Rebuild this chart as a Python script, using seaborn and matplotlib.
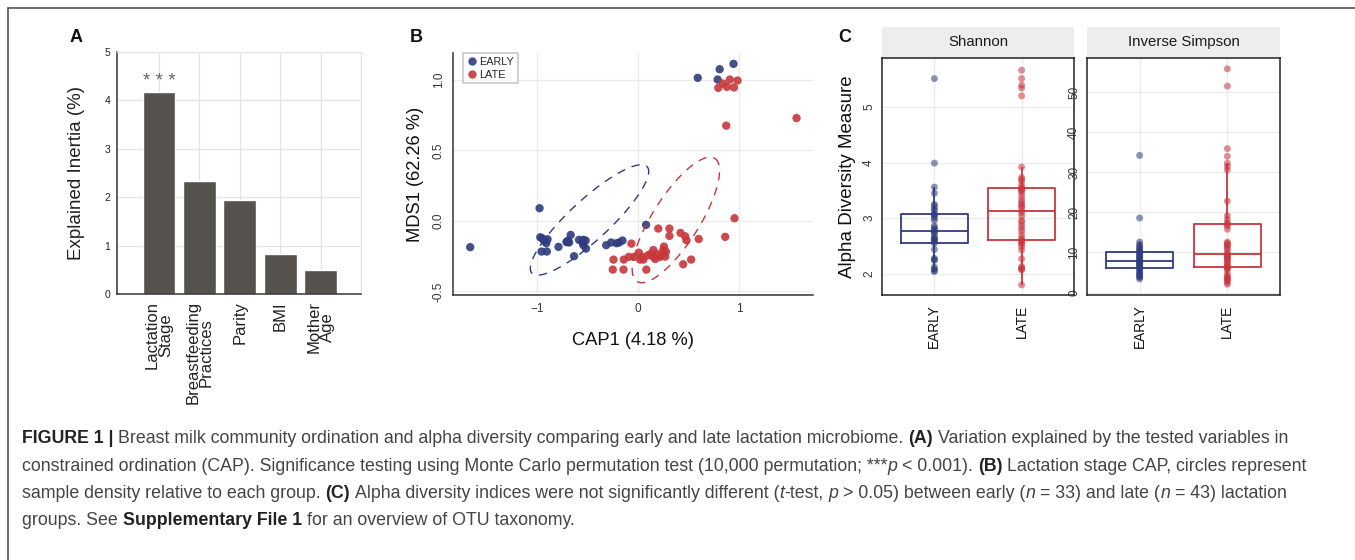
import numpy as np
import pandas as pd
import matplotlib
matplotlib.use("Agg")
import matplotlib.pyplot as plt
import seaborn as sns
from matplotlib.patches import Rectangle
from matplotlib.lines import Line2D
from matplotlib.ticker import FormatStrFormatter

# ---------------- data ----------------
# Panel A: explained inertia (CAP)
factor_labels = ["Lactation\nStage", "Breastfeeding\nPractices", "Parity", "BMI", "Mother\nAge"]
explained_inertia = [4.17, 2.34, 1.95, 0.83, 0.50]
significance = ["***", "", "", "", ""]

# Panel B: CAP ordination
groups = ["EARLY", "LATE"]
early_cap1 = [-1.66, -0.974, -0.967, -0.948, -0.921, -0.895, -0.908, -0.954, -0.902, -0.787,
              -0.708, -0.692, -0.666, -0.682, -0.633, -0.584, -0.541, -0.518, -0.541, -0.515,
              -0.315, -0.266, -0.213, -0.187, -0.154, 0.079, 0.590, 0.807, 0.787, 0.944,
              -0.55, -0.93, -0.70]
early_mds1 = [-0.186, 0.090, -0.116, -0.123, -0.139, -0.130, -0.158, -0.217, -0.217, -0.184,
              -0.149, -0.139, -0.099, -0.153, -0.250, -0.134, -0.134, -0.139, -0.172, -0.196,
              -0.172, -0.153, -0.158, -0.153, -0.139, -0.028, 1.014, 1.075, 1.002, 1.113,
              -0.150, -0.140, -0.150]
late_cap1 = [0.793, 0.839, 0.879, 0.908, 0.984, 0.948, 0.872, 1.567, 0.954, 0.862,
             -0.066, -0.243, -0.250, -0.141, -0.144, -0.092, -0.042, 0.007, 0.020, 0.040,
             0.053, 0.082, 0.098, 0.125, 0.151, 0.151, 0.184, 0.200, 0.217, 0.233,
             0.250, 0.256, 0.276, 0.269, 0.310, 0.310, 0.420, 0.466, 0.479, 0.446,
             0.525, 0.600, 0.170]
late_mds1 = [0.943, 0.974, 0.950, 1.002, 0.995, 0.946, 0.675, 0.729, 0.019, -0.113,
             -0.161, -0.274, -0.345, -0.274, -0.345, -0.255, -0.255, -0.225, -0.274, -0.255,
             -0.274, -0.345, -0.243, -0.234, -0.206, -0.255, -0.234, -0.054, -0.255, -0.243,
             -0.206, -0.182, -0.218, -0.253, -0.054, -0.106, -0.085, -0.109, -0.137, -0.307,
             -0.274, -0.128, -0.270]
# 95% ellipses (centre and two conjugate semi-axis vectors, CAP1/MDS1 units)
ellipse_center_cap1 = [-0.48, 0.374]
ellipse_center_mds1 = [0.007, 0.007]
ellipse_major_cap1 = [0.57, 0.385]
ellipse_major_mds1 = [0.377, 0.436]
ellipse_minor_cap1 = [0.134, 0.196]
ellipse_minor_mds1 = [-0.105, -0.089]

# Panel C: alpha diversity
shannon_early = [2.04, 2.06, 2.09, 2.12, 2.24, 2.26, 2.28, 2.44, 2.55, 2.58, 2.61, 2.62, 2.64,
                 2.66, 2.72, 2.75, 2.77, 2.80, 2.83, 2.86, 2.96, 3.00, 3.04, 3.06, 3.08, 3.14,
                 3.17, 3.22, 3.25, 3.45, 3.56, 3.99, 5.51]
shannon_late = [1.80, 2.07, 2.09, 2.10, 2.13, 2.27, 2.43, 2.49, 2.54, 2.56, 2.59, 2.61, 2.64,
                2.70, 2.77, 2.82, 2.87, 2.93, 2.96, 3.04, 3.10, 3.13, 3.19, 3.22, 3.25, 3.29,
                3.34, 3.40, 3.46, 3.50, 3.51, 3.53, 3.55, 3.59, 3.66, 3.70, 3.73, 3.92, 5.20,
                5.34, 5.39, 5.51, 5.66]
invsimpson_early = [3.4, 3.8, 4.0, 4.3, 4.6, 5.0, 5.2, 5.7, 6.1, 6.3, 6.6, 6.8, 7.1, 7.3, 7.5,
                    7.7, 7.9, 8.2, 8.5, 8.8, 9.0, 9.3, 9.6, 9.9, 10.2, 10.5, 10.8, 11.2, 11.5,
                    12.0, 12.6, 18.6, 34.2]
invsimpson_late = [2.1, 2.5, 3.0, 3.3, 3.5, 3.9, 4.2, 5.0, 5.9, 6.1, 6.2, 6.4, 6.8, 7.1, 7.6,
                   8.0, 8.3, 8.6, 8.9, 9.1, 9.3, 9.5, 10.1, 10.8, 11.2, 11.7, 12.0, 12.3, 12.6,
                   15.8, 16.6, 17.0, 17.4, 18.2, 19.2, 22.8, 30.6, 31.5, 32.3, 34.0, 35.9, 51.5,
                   55.8]
facet_titles = ["Shannon", "Inverse Simpson"]

caption_lines = [
    [("FIGURE 1 |", "b"), (" Breast milk community ordination and alpha diversity comparing early and late lactation microbiome. ", "n"),
     ("(A)", "b"), (" Variation explained by the tested variables in", "n")],
    [("constrained ordination (CAP). Significance testing using Monte Carlo permutation test (10,000 permutation; ***", "n"),
     ("p", "i"), (" < 0.001). ", "n"), ("(B)", "b"), (" Lactation stage CAP, circles represent", "n")],
    [("sample density relative to each group. ", "n"), ("(C)", "b"),
     (" Alpha diversity indices were not significantly different (", "n"), ("t", "i"), ("-test, ", "n"),
     ("p", "i"), (" > 0.05) between early (", "n"), ("n", "i"), (" = 33) and late (", "n"), ("n", "i"),
     (" = 43) lactation", "n")],
    [("groups. See ", "n"), ("Supplementary File 1", "b"), (" for an overview of OTU taxonomy.", "n")],
]

# ---------------- style ----------------
sns.set_theme(style="white")
plt.rcParams["font.family"] = ["Liberation Sans", "DejaVu Sans"]
palette = {"EARLY": "#2F3C7E", "LATE": "#C8363C"}
W, H = 1355, 560
fig = plt.figure(figsize=(W / 100, H / 100), dpi=100)
fig.patch.set_facecolor("white")


def px_axes(l, t, r, b):
    return fig.add_axes([l / W, 1 - b / H, (r - l) / W, (b - t) / H])


axA = px_axes(117, 52, 361, 294)
axB = px_axes(453, 53, 813, 295)
axC1 = px_axes(882, 58, 1074, 295)
axC2 = px_axes(1087, 58, 1280, 295)

# ---------------- panel A ----------------
dfA = pd.DataFrame({"factor": factor_labels, "inertia": explained_inertia})
sns.barplot(data=dfA, x="factor", y="inertia", color="#56524E", saturation=1,
            width=0.81, ax=axA)
axA.set_xlim(-1.04, 5.0)
axA.set_ylim(0, 5)
axA.set_yticks(range(6))
axA.set_xticks(range(len(factor_labels)))
axA.set_xticklabels(factor_labels, rotation=90, fontsize=12, color="#222222",
                    linespacing=0.85, multialignment="center")
axA.grid(True, color="#E3E3E3", lw=0.9)
axA.set_axisbelow(True)
for s in ["left", "bottom"]:
    axA.spines[s].set_color("#333333")
    axA.spines[s].set_linewidth(1.1)
for s in ["top", "right"]:
    axA.spines[s].set_color("#E3E3E3")
    axA.spines[s].set_linewidth(0.9)
axA.tick_params(axis="both", direction="out", length=3, width=0.8, color="#333333", pad=2)
axA.tick_params(axis="y", labelsize=7.5, labelcolor="#222222")
axA.set_xlabel("")
axA.set_ylabel("Explained Inertia (%)", fontsize=13.5, labelpad=14, color="#222222")
for i, s in enumerate(significance):
    if s:
        axA.text(i, explained_inertia[i] + 0.12, " ".join(s), ha="center", va="baseline",
                 fontsize=13.5, color="#666666")

# ---------------- panel B ----------------
dfB = pd.DataFrame({
    "CAP1": early_cap1 + late_cap1,
    "MDS1": early_mds1 + late_mds1,
    "group": ["EARLY"] * len(early_cap1) + ["LATE"] * len(late_cap1),
})
sns.scatterplot(data=dfB, x="CAP1", y="MDS1", hue="group", hue_order=groups,
                palette=palette, s=36, alpha=0.9, edgecolor="none", ax=axB)
t = np.linspace(0, 2 * np.pi, 300)
for i, g in enumerate(groups):
    ex = ellipse_center_cap1[i] + ellipse_major_cap1[i] * np.cos(t) + ellipse_minor_cap1[i] * np.sin(t)
    ey = ellipse_center_mds1[i] + ellipse_major_mds1[i] * np.cos(t) + ellipse_minor_mds1[i] * np.sin(t)
    axB.plot(ex, ey, color=palette[g], lw=1.0, dashes=(6, 5))
axB.set_xlim(-1.83, 1.73)
axB.set_ylim(-0.525, 1.19)
axB.set_xticks([-1, 0, 1])
axB.set_yticks([-0.5, 0.0, 0.5, 1.0])
axB.yaxis.set_major_formatter(FormatStrFormatter("%.1f"))
axB.grid(True, color="#EBEBEB", lw=0.9)
axB.set_axisbelow(True)
for s in ["top", "right"]:
    axB.spines[s].set_visible(False)
for s in ["left", "bottom"]:
    axB.spines[s].set_color("#333333")
    axB.spines[s].set_linewidth(1.1)
axB.tick_params(axis="both", direction="out", length=3, width=0.8, color="#333333",
                labelsize=8.5, labelcolor="#333333", pad=3)
axB.tick_params(axis="y", labelrotation=90)
for lab in axB.get_yticklabels():
    lab.set_va("center")
axB.set_xlabel("CAP1 (4.18 %)", fontsize=13.2, labelpad=12, color="#111111")
axB.set_ylabel("MDS1 (62.26 %)", fontsize=13.2, labelpad=6, color="#111111")
handles, labels = axB.get_legend_handles_labels()
leg = axB.legend(handles, labels, loc="upper left", bbox_to_anchor=(0.027, 1.0),
                 borderaxespad=0, frameon=True, fancybox=False, edgecolor="#BBBBBB",
                 fontsize=7.8, handletextpad=0.2, borderpad=0.35, labelspacing=0.25,
                 handlelength=1.0, title=None)
leg.get_frame().set_linewidth(1.2)

# ---------------- panel C ----------------
facet_data = [(shannon_early, shannon_late), (invsimpson_early, invsimpson_late)]
facet_ylims = [(1.62, 5.88), (-0.6, 58.5)]
facet_yticks = [[2, 3, 4, 5], [0, 10, 20, 30, 40, 50]]
for ax, (e_vals, l_vals), title, ylim, yt in zip([axC1, axC2], facet_data, facet_titles,
                                                 facet_ylims, facet_yticks):
    df = pd.DataFrame({"group": ["EARLY"] * len(e_vals) + ["LATE"] * len(l_vals),
                       "value": e_vals + l_vals})
    sns.boxplot(data=df, x="group", y="value", hue="group", order=groups, hue_order=groups,
                palette=palette, fill=False, width=0.76, linewidth=1.3, showfliers=False,
                showcaps=False, legend=False, ax=ax)
    sns.stripplot(data=df, x="group", y="value", hue="group", order=groups, hue_order=groups,
                  palette=palette, jitter=False, size=5.0, alpha=0.55, linewidth=0,
                  legend=False, ax=ax)
    ax.set_xlim(-0.6, 1.6)
    ax.set_ylim(*ylim)
    ax.set_yticks(yt)
    ax.grid(True, color="#EBEBEB", lw=0.9)
    ax.set_axisbelow(True)
    for s in ax.spines.values():
        s.set_visible(True)
        s.set_color("#222222")
        s.set_linewidth(1.1)
    ax.tick_params(axis="both", direction="out", length=3, width=0.8, color="#333333",
                   labelcolor="#333333")
    ax.tick_params(axis="y", labelsize=8.5, labelrotation=90, pad=2)
    ax.tick_params(axis="x", labelsize=9.8, labelrotation=90, pad=4, labelcolor="#111111")
    for lab in ax.get_yticklabels():
        lab.set_va("center")
    ax.set_xlabel("")
    ax.set_ylabel("")
    ax.add_patch(Rectangle((0, 1.0), 1, 0.131, transform=ax.transAxes, clip_on=False,
                           facecolor="#EDEDED", edgecolor="none"))
    ax.text(0.5, 1.0655, title, transform=ax.transAxes, ha="center", va="center",
            fontsize=10.8, color="#1A1A1A")
axC1.set_ylabel("Alpha Diversity Measure", fontsize=13.5, labelpad=5, color="#111111")

# ---------------- panel letters & frame ----------------
for letter, (x, y) in zip("ABC", [(76, 37), (416, 37), (845, 37)]):
    fig.text(x / W, 1 - y / H, letter, fontsize=13, fontweight="bold", ha="center",
             va="center", color="#111111")
fig.add_artist(Line2D([8 / W, 1.0], [1 - 8 / H, 1 - 8 / H], transform=fig.transFigure,
                      color="#555555", lw=1.2))
fig.add_artist(Line2D([8 / W, 8 / W], [1 - 8 / H, 0.0], transform=fig.transFigure,
                      color="#555555", lw=1.2))

# ---------------- caption ----------------
renderer = fig.canvas.get_renderer()


def text_width(s, fs, style):
    t = fig.text(0, 0, s, fontsize=fs, fontweight="bold" if style == "b" else "normal",
                 fontstyle="italic" if style == "i" else "normal")
    w = t.get_window_extent(renderer).width
    t.remove()
    return w


def draw_line(runs, x0, y, fs, draw=True):
    x = x0
    for text, style in runs:
        sw = text_width("a a", fs, style) - text_width("aa", fs, style)
        core = text.strip()
        if text.startswith(" "):
            x += sw
        if core:
            if draw:
                fig.text(x / W, 1 - y / H, core, fontsize=fs,
                         fontweight="bold" if style == "b" else "normal",
                         fontstyle="italic" if style == "i" else "normal",
                         color="#222222" if style == "b" else "#444444",
                         ha="left", va="baseline")
            x += text_width(core, fs, style)
        if text.endswith(" "):
            x += sw
    return x


x0 = 22
fs0 = 12.0
end = draw_line(caption_lines[1], x0, 0, fs0, draw=False)
fs = fs0 * (1306 - x0) / (end - x0)
for line, yb in zip(caption_lines, [443, 471, 498, 525]):
    draw_line(line, x0, yb, fs)

fig.savefig("out.png", dpi=100, facecolor="white")
